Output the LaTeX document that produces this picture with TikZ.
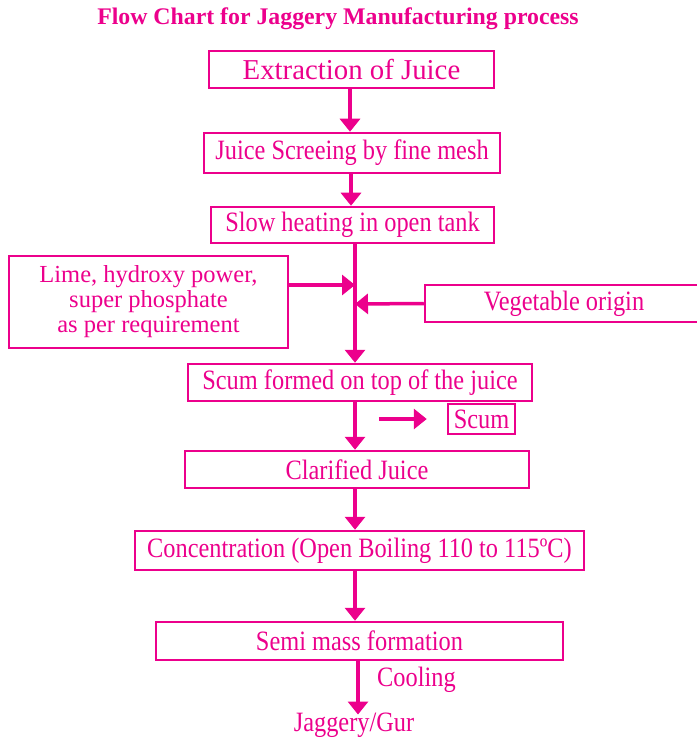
\documentclass[tikz,border=0pt]{standalone}
\usepackage{fontspec}
\setmainfont{Liberation Serif}
\newfontfamily\narrowfont[FakeStretch=0.87]{Liberation Serif}
\usetikzlibrary{arrows.meta}
\definecolor{jagpink}{HTML}{EC008C}
\tikzset{
  stage/.style={draw=jagpink, line width=2.5pt, text=jagpink, inner sep=0pt,
    font=\narrowfont\fontsize{28}{30}\selectfont},
  flow/.style={draw=jagpink, line width=3.5pt, -{Triangle[width=20pt,length=13pt]}},
  lbl/.style={text=jagpink, inner sep=1pt, font=\narrowfont\fontsize{28}{30}\selectfont},
}
\begin{document}
\begin{tikzpicture}[x=1pt, y=-1pt]
    \useasboundingbox (0,0) rectangle (696,743);

    \node[text=jagpink, font=\bfseries\fontsize{23.8}{26}\selectfont] (title) at (338,19)
      {Flow Chart for Jaggery Manufacturing process};

    \node[stage, minimum width=285, minimum height=37,
          font=\fontsize{28.8}{30}\selectfont] (extract) at (351.5,69.5) {Extraction of Juice};
    \node[stage, minimum width=296, minimum height=40] (screen)  at (352,153)    {Juice Screeing by fine mesh};
    \node[stage, minimum width=283, minimum height=36] (heat)    at (352.5,225)  {Slow heating in open tank};
    \node[stage, minimum width=279, minimum height=92, align=center,
          font=\fontsize{24.5}{25}\selectfont] (lime) at (148.5,302)
      {Lime, hydroxy power,\\super phosphate\\as per requirement};
    \node[stage, minimum width=278, minimum height=37] (veg)     at (564,303.5)  {Vegetable origin};
    \node[stage, minimum width=344, minimum height=37] (scum)    at (360,382.5)  {Scum formed on top of the juice};
    \node[stage, minimum width=67,  minimum height=30] (scumout) at (481.5,419)  {Scum};
    \node[stage, minimum width=344, minimum height=37] (clar)    at (357,469.5)  {Clarified Juice};
    \node[stage, minimum width=449, minimum height=39] (conc)    at (359.5,550.5)
      {Concentration (Open Boiling 110 to 115ºC)};
    \node[stage, minimum width=407, minimum height=38] (semi)    at (359.5,641)  {Semi mass formation};
    \node[lbl] (gur)  at (354,725) {Jaggery/Gur};
    \node[lbl, anchor=west] (cool) at (376,680) {Cooling};

    \coordinate (limein) at (355,285);
    \coordinate (vegin)  at (355,304);

    \draw[flow] (extract.south -| 350,0) -- (screen.north -| 350,0);
    \draw[flow] (screen.south -| 351,0) -- (heat.north -| 351,0);
    \draw[flow] (heat.south -| 355,0) -- (scum.north -| 355,0);
    \draw[flow] (lime.east |- limein) -- (limein);
    \draw[flow] (veg.west) -- (vegin);
    \draw[flow] ([xshift=-68pt]scumout.west) -- ([xshift=-20pt]scumout.west);
    \draw[flow] (scum.south -| 355,0) -- (clar.north -| 355,0);
    \draw[flow] (clar.south -| 355,0) -- (conc.north -| 355,0);
    \draw[flow] (conc.south -| 355,0) -- (semi.north -| 355,0);
    \draw[flow] (semi.south -| 358,0) -- ([yshift=-3pt]gur.north -| 358,0);
\end{tikzpicture}
\end{document}
